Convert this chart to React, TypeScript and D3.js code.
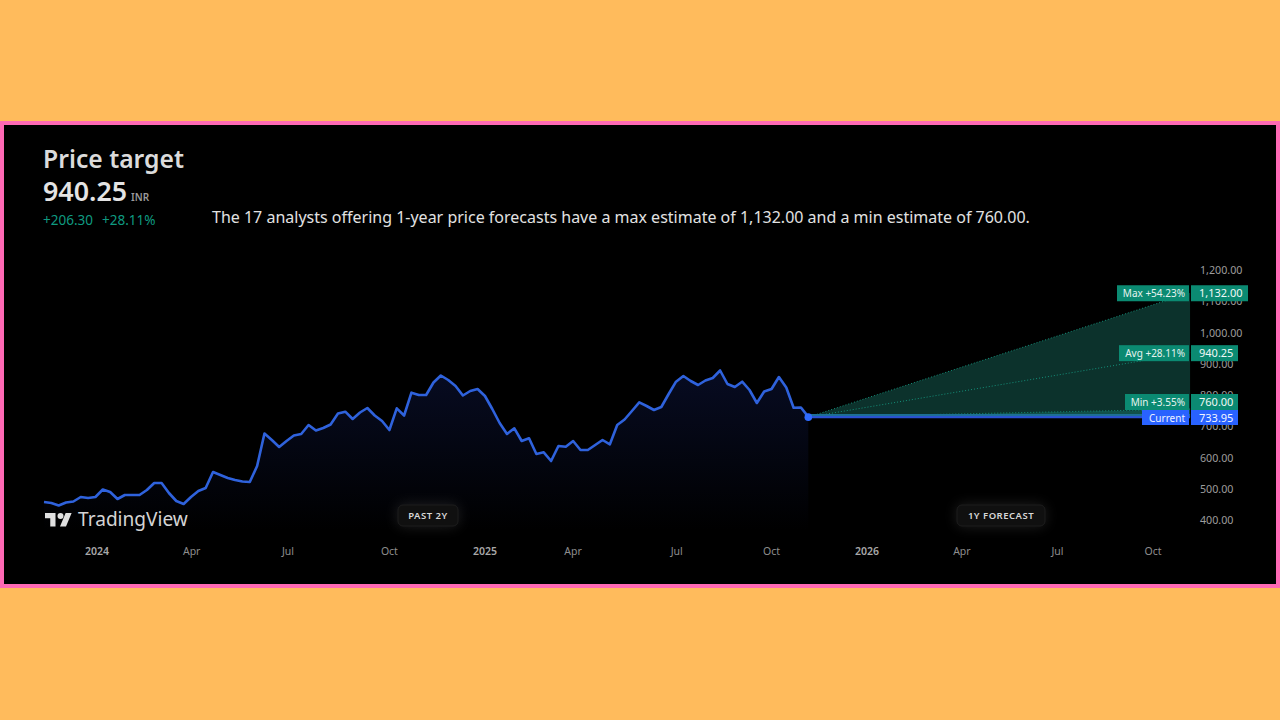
import React from "react";
import * as d3 from "d3";

const prices = [
  457.6, 454.4, 446.4, 456, 459.2, 473.6, 470.4, 473.6, 497.6, 489.6, 467.2, 480, 480, 480, 496, 518.4, 518.4, 486.4, 460.8, 451.2,
  473.6, 492.8, 502.4, 553.6, 544, 534.4, 528, 523.2, 521.6, 572.8, 676.8, 656, 633.6, 652.8, 670.4, 675.2, 704, 686.4, 694.4, 705.6,
  740.8, 746.6, 723.2, 744, 758.4, 734.4, 716.8, 688, 757.4, 734.4, 807.4, 800, 800, 840, 862.4, 848, 828.8, 798.4, 812.8, 819.2,
  796.8, 755.2, 710.4, 675.2, 693.4, 652.8, 661.4, 611.2, 616.6, 588.8, 636.8, 634.6, 652.8, 624, 624, 640, 656, 642.2, 704, 721.6,
  748.8, 776.6, 764.8, 752, 761.6, 803.2, 842.6, 860.8, 844.8, 832, 846.4, 854.4, 878.4, 835.2, 825.6, 842.6, 816, 774.4, 811.2, 819.2,
  857.6, 824, 759.4, 760, 730,
];
const xTickLabels = ["2024", "Apr", "Jul", "Oct", "2025", "Apr", "Jul", "Oct", "2026", "Apr", "Jul", "Oct"];
const xTickWeeks = [7.2, 20.1, 33.2, 47, 60, 72, 86.1, 99, 112, 124.9, 137.9, 150.9];
const yTicks = [400, 500, 600, 700, 800, 900, 1000, 1100, 1200];
const lastWeek = prices.length - 1;
const forecastEndWeek = 155.95;
const current = 733.95;
const targets = [
  { name: "Max +54.23%", value: 1132, text: "1,132.00", width: 72, right: 57 },
  { name: "Avg +28.11%", value: 940.25, text: "940.25", width: 70, right: 47 },
  { name: "Min +3.55%", value: 760, text: "760.00", width: 64, right: 47 },
];
const badges = [
  { label: "PAST 2Y", cx: 428, w: 60 },
  { label: "1Y FORECAST", cx: 1001, w: 88 },
];

const FONT = "'Noto Sans', sans-serif";
const TEAL = "#0b8a72";
const BLUE = "#2962ff";

export default function App() {
  const x = d3.scaleLinear().domain([0, 104]).range([44, 808.3]);
  const y = d3.scaleLinear().domain([400, 1200]).range([520, 270]);
  const fy = (v: number) => y(v) + 1.5;
  const line = d3.line<number>().x((_, i) => x(i)).y((d) => y(d));
  const area = d3.area<number>().x((_, i) => x(i)).y0(y(365)).y1((d) => y(d));
  const xEnd = x(forecastEndWeek);
  const x0 = x(lastWeek);
  const maxV = targets[0].value;
  const minV = targets[2].value;
  const wedge = d3.line()([[x0, fy(current)], [xEnd, fy(maxV)], [xEnd, fy(minV)]]) + "Z";
  const strip = d3.line()([[x0, fy(current)], [xEnd, fy(minV)], [xEnd, fy(current)]]) + "Z";
  const labelY = (v: number, i: number) => (i === 2 ? 402 : y(v) + 2);

  return (
    <svg width={1280} height={720} style={{ position: "absolute", left: 0, top: 0 }} fontFamily={FONT}>
      <defs>
        <linearGradient id="areaFill" x1="0" x2="0" y1="0" y2="1" gradientUnits="objectBoundingBox">
          <stop offset="0" stopColor="#1a2a7a" stopOpacity={0.28} />
          <stop offset="1" stopColor="#1a2a7a" stopOpacity={0} />
        </linearGradient>
        <filter id="glow" x="-50%" y="-100%" width="200%" height="300%">
          <feGaussianBlur stdDeviation="7" />
        </filter>
      </defs>
      <rect width={1280} height={720} fill="#ffbb5c" />
      <rect x={2} y={123} width={1276} height={463} fill="#000" stroke="#ff69b4" strokeWidth={4} />

      <text x={43} y={168} fontSize={24.7} fontWeight={600} fill="#dbdbdb">Price target</text>
      <text x={43} y={201} fontSize={26.8} fontWeight={600} fill="#e4e4e4">940.25</text>
      <text x={131} y={201} fontSize={10} fontWeight={600} fill="#9a9a9a">INR</text>
      <text x={43} y={225} fontSize={13.5} fill="#0f9a80">+206.30</text>
      <text x={102} y={225} fontSize={13.5} fill="#0f9a80">+28.11%</text>
      <text x={212} y={223} fontSize={16} fill="#e2e2e2">
        The 17 analysts offering 1-year price forecasts have a max estimate of 1,132.00 and a min estimate of 760.00.
      </text>

      {yTicks.map((t) => (
        <text key={t} x={1200} y={y(t) + 4} fontSize={10.7} fill="#9c9c9c">
          {d3.format(",.2f")(t)}
        </text>
      ))}
      {xTickLabels.map((l, i) => (
        <text key={i} x={x(xTickWeeks[i])} y={555} fontSize={10.5} textAnchor="middle"
          fontWeight={l.length === 4 ? 600 : 400} fill={l.length === 4 ? "#a8a8a8" : "#8e8e8e"}>
          {l}
        </text>
      ))}

      <path d={area(prices) ?? ""} fill="url(#areaFill)" />
      <path d={wedge} fill="#0c322c" />
      <path d={strip} fill="#11514a" />
      {targets.map((t) => (
        <line key={t.name} x1={x0} y1={fy(current)} x2={xEnd} y2={fy(t.value)}
          stroke="#14907a" strokeWidth={1} strokeDasharray="1 2" />
      ))}
      <line x1={x0} x2={xEnd} y1={fy(current) - 2} y2={fy(current) - 2} stroke="#1d6f96" strokeWidth={2.5} />
      <line x1={x0} x2={xEnd} y1={fy(current)} y2={fy(current)} stroke="#2a52d0" strokeWidth={2.2} />
      <path d={line(prices) ?? ""} fill="none" stroke="#2f62dc" strokeWidth={2.6} strokeLinejoin="round" />
      <circle cx={x0} cy={fy(current)} r={3.8} fill="#2f6bff" />

      {targets.map((t, i) => {
        const cy = labelY(t.value, i);
        return (
          <g key={t.name}>
            <rect x={1189 - t.width} y={cy - 8} width={t.width} height={16} fill={TEAL} />
            <rect x={1191} y={cy - 8} width={t.right} height={16} fill={TEAL} />
            <text x={1185} y={cy + 3.6} fontSize={10} textAnchor="end" fill="#e6f3f0">{t.name}</text>
            <text x={1199} y={cy + 4} fontSize={11} fill="#f0f8f6">{t.text}</text>
          </g>
        );
      })}
      <g>
        <rect x={1142} y={410} width={47} height={15} fill={BLUE} />
        <rect x={1191} y={410} width={47} height={15} fill={BLUE} />
        <text x={1185} y={421.5} fontSize={10} textAnchor="end" fill="#eef2ff">Current</text>
        <text x={1199} y={421.5} fontSize={11} fill="#f2f5ff">{current.toFixed(2)}</text>
      </g>

      <path d="M59 526.5H53.75V518.25H48.5V513H59V526.5ZM69.5 526.5H63.5L69.13 513H75.13L69.5 526.5Z" fill="#e0e0e0" transform="translate(-3.5,0)" />
      <circle cx={60.5} cy={516} r={3} fill="#e0e0e0" />
      <text x={78} y={526} fontSize={19.1} fill="#d4d4d4">TradingView</text>

      {badges.map((b) => (
        <g key={b.label}>
          <rect x={b.cx - b.w / 2} y={505} width={b.w} height={21} rx={5} fill="#ffffff" opacity={0.13} filter="url(#glow)" />
          <rect x={b.cx - b.w / 2} y={505} width={b.w} height={21} rx={5} fill="#101010" stroke="#1d1d1d" />
          <text x={b.cx} y={519} fontSize={9.5} fontWeight={600} textAnchor="middle" fill="#d8d8d8" letterSpacing={0.5}>{b.label}</text>
        </g>
      ))}
    </svg>
  );
}
